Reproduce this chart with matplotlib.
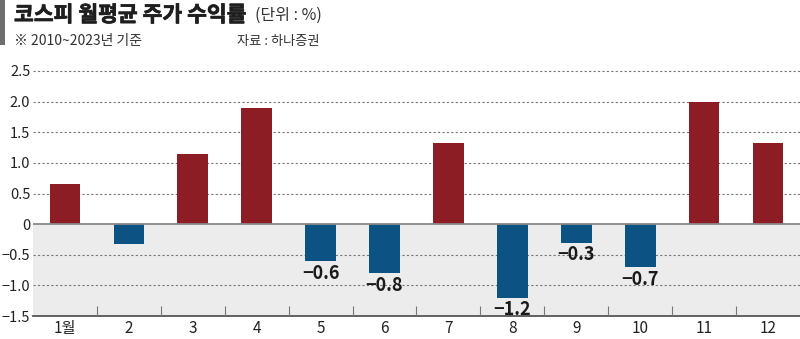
import matplotlib
matplotlib.use('Agg')
import matplotlib.pyplot as plt
import matplotlib.patheffects as pe

plt.rcParams['font.family'] = ['Noto Sans CJK KR', 'DejaVu Sans']

months = ['1월', '2', '3', '4', '5', '6', '7', '8', '9', '10', '11', '12']
returns = [0.65, -0.32, 1.15, 1.9, -0.6, -0.8, 1.33, -1.2, -0.3, -0.7, 1.99, 1.32]
labeled = [4, 5, 7, 8, 9]  # 음수 값 표시하는 월 (0-based)
yticks = [2.5, 2.0, 1.5, 1.0, 0.5, 0, -0.5, -1.0, -1.5]
ytick_labels = ['2.5', '2.0', '1.5', '1.0', '0.5', '0', '\u22120.5', '\u22121.0', '\u22121.5']

RED = '#8c1d24'
BLUE = '#0c5383'

fig = plt.figure(figsize=(8, 3.39), dpi=100)
ax = fig.add_axes([33 / 800, 23 / 339, 767 / 800, 245 / 339])

ax.set_xlim(-0.5, 11.5)
ax.set_ylim(-1.5, 2.5)

# 음수 영역 배경
ax.axhspan(-1.5, 0, color='#ececec', zorder=0, lw=0)

for y in yticks:
    if y in (0, -1.5):
        continue
    ax.axhline(y, color='#777777', lw=0.8, ls=(0, (2, 2)), zorder=1, clip_on=False)
ax.axhline(0, color='#8a8a8a', lw=1.3, zorder=3)
ax.axhline(-1.5, color='#555555', lw=1.3, zorder=3, clip_on=False)

# 월 구분 눈금
ax.vlines([i + 0.5 for i in range(11)], -1.5, -1.34, color='#777777', lw=0.8, zorder=3)

colors = [RED if v >= 0 else BLUE for v in returns]
ax.bar(range(12), returns, width=0.48, color=colors, zorder=2)

for i in labeled:
    v = returns[i]
    ax.annotate(f'{v:.1f}'.replace('-', '\u2212'), (i, v), xytext=(0, -2),
                textcoords='offset points', ha='center', va='top',
                fontsize=13, fontweight='bold', color='#1a1a1a', zorder=4)

ax.set_yticks(yticks)
ax.set_yticklabels(ytick_labels, fontsize=10.5, color='#222222')
ax.set_xticks(range(12))
ax.set_xticklabels(months, fontsize=11, color='#222222')
ax.tick_params(axis='both', length=0)
ax.tick_params(axis='y', pad=2)
ax.tick_params(axis='x', pad=3)
for s in ax.spines.values():
    s.set_visible(False)

# 제목 영역
fig.patches.append(plt.Rectangle((0, 1 - 45 / 339), 5 / 800, 45 / 339,
                                 transform=fig.transFigure, color='#6e6e6e', lw=0))
fig.text(14 / 800, 1 - 15 / 339, '코스피 월평균 주가 수익률', fontsize=15.5,
         fontweight='bold', color='#1e1e1e', va='center', ha='left',
         path_effects=[pe.withStroke(linewidth=0.5, foreground='#1e1e1e')])
fig.text(255 / 800, 1 - 15 / 339, '(단위 : %)', fontsize=11.5,
         color='#333333', va='center', ha='left')
fig.text(14 / 800, 1 - 41 / 339, '※ 2010~2023년 기준', fontsize=10,
         color='#333333', va='center', ha='left')
fig.text(237 / 800, 1 - 41 / 339, '자료 : 하나증권', fontsize=9.5,
         color='#333333', va='center', ha='left')

fig.savefig('out.png', dpi=100)
